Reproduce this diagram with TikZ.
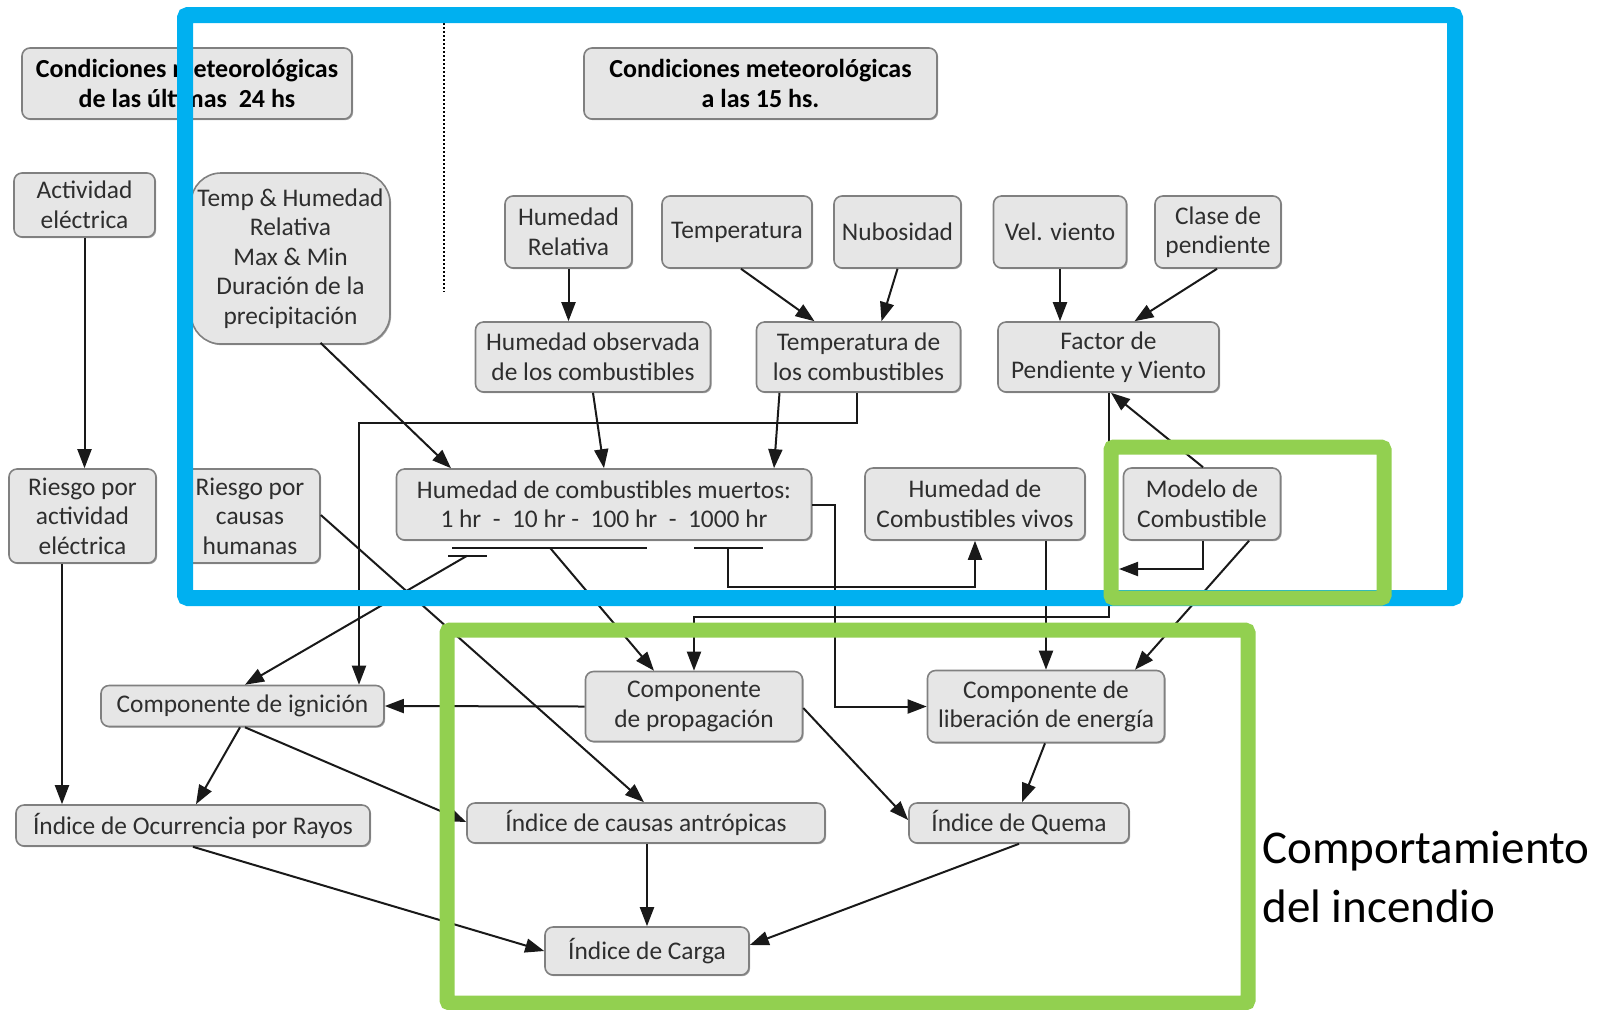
\documentclass[tikz,border=0pt]{standalone}
\usepackage{fontspec}
\setmainfont{Carlito}
\usetikzlibrary{arrows.meta,shadows,calc}
\definecolor{frameblue}{HTML}{00B0F0}
\definecolor{framegreen}{HTML}{92D050}
\definecolor{boxfill}{HTML}{E6E6E6}
\definecolor{boxline}{HTML}{808080}
\definecolor{ink}{HTML}{2E2E2E}
\begin{document}
\begin{tikzpicture}[x=0.5pt,y=-0.5pt,
  box/.style={draw=boxline, fill=boxfill, line width=0.8pt, rounded corners=4pt,
    align=center, inner sep=0pt, text=ink,
    font=\fontsize{12.7}{14.75}\selectfont,
    drop shadow={shadow xshift=0.6pt, shadow yshift=-0.6pt, fill=black, opacity=0.35}},
  hdr/.style={box, text=black, font=\bfseries\fontsize{13}{15}\selectfont},
  wh/.style 2 args={minimum width=#1*0.5pt, minimum height=#2*0.5pt},
  arr/.style={-{Triangle[length=9.5pt,width=7pt]}, line width=1pt, draw=black!90},
  link/.style={line width=1pt, draw=black!90},
  frame/.style={line width=8pt, rounded corners=1.5pt}]
\useasboundingbox (0,0) rectangle (1597,1009);

% ---- headers
\node[hdr, wh={330}{71}] (hdr24) at (187,83.5) {Condiciones meteorológicas\\de las últimas~~24 hs};
\node[hdr, wh={353}{71}] (hdr15) at (760.5,83.5) {Condiciones meteorológicas\\a las 15 hs.};
\draw[line width=1pt, densely dotted] (444,23) -- (444,292);

% ---- input boxes
\node[box, wh={141}{64}] (act) at (84.5,205) {Actividad\\eléctrica};
\node[box, wh={199}{171}, rounded corners=15pt] (temphum) at (290.5,258.5)
  {Temp \& Humedad\\Relativa\\Max \& Min\\Duración de la\\precipitación};
\node[box, wh={127}{72}] (hrel) at (568.5,232) {Humedad\\Relativa};
\node[box, wh={150}{72}] (temp) at (737,232) {Temperatura};
\node[box, wh={127}{72}] (nub) at (897.5,232) {Nubosidad};
\node[box, wh={133}{72}] (vel) at (1060,232) {Vel. viento};
\node[box, wh={126}{72}] (clase) at (1218,232) {Clase de\\pendiente};

\node[box, wh={235}{70}] (hobs) at (593,357) {Humedad observada\\de los combustibles};
\node[box, wh={204}{70}] (tcomb) at (858.5,357) {Temperatura de\\los combustibles};
\node[box, wh={221}{70}] (factor) at (1108.5,357) {Factor de\\Pendiente y Viento};

\node[box, wh={147}{94}] (riesgoE) at (82.5,516) {Riesgo por\\actividad\\eléctrica};
\node[box, wh={140}{94}] (riesgoH) at (250,516) {Riesgo por\\causas\\humanas};
\node[box, wh={415}{71}] (hmuert) at (604,504.5) {Humedad de combustibles muertos:\\1 hr~~-~~10 hr~-~~100 hr~~-~~1000 hr};
\node[box, wh={220}{72}] (hviv) at (975,504) {Humedad de\\Combustibles vivos};
\node[box, wh={157}{72}] (modelo) at (1202,504) {Modelo de\\Combustible};

% ---- components and indices
\node[box, wh={283}{41}] (ign) at (242.5,706) {Componente de ignición};
\node[box, wh={217}{70}] (prop) at (694,706.5) {Componente\\de propagación};
\node[box, wh={237}{72}] (lib) at (1046,706.5) {Componente de\\liberación de energía};
\node[box, wh={354}{41}] (ocur) at (193,825.5) {Índice de Ocurrencia por Rayos};
\node[box, wh={358}{40}] (antr) at (646,823) {Índice de causas antrópicas};
\node[box, wh={220}{40}] (quema) at (1019,823) {Índice de Quema};
\node[box, wh={204}{48}] (carga) at (647,951) {Índice de Carga};

% ---- bars under the dead fuel moisture classes
\draw[link] ([shift={(-152,7)}]hmuert.south) -- ([shift={(43,7)}]hmuert.south);
\draw[link] ([shift={(-156,15)}]hmuert.south) -- ([shift={(-117,15)}]hmuert.south);
\draw[link] ([shift={(90,7)}]hmuert.south) -- ([shift={(159,7)}]hmuert.south);
\coordinate (h1) at ([shift={(-137,15)}]hmuert.south);
\coordinate (h10) at ([shift={(-54,7)}]hmuert.south);
\coordinate (h1000) at ([shift={(124,7)}]hmuert.south);
\coordinate (mend) at (1119,569);

% ---- connectors
\draw[arr] (act.south) -- (act.south |- riesgoE.north);
\draw[arr] ([shift={(-20.5,0)}]riesgoE.south) -- ([shift={(-20.5,0)}]riesgoE.south |- ocur.north);
\draw[arr] ([shift={(30,-2)}]temphum.south) -- ([shift={(-153,0)}]hmuert.north);
\draw[arr] (hrel.south) -- (hrel.south |- hobs.north);
\draw[arr] ([shift={(4,0)}]temp.south) -- ([shift={(-44,0)}]tcomb.north);
\draw[arr] (nub.south) -- ([shift={(23,0)}]tcomb.north);
\draw[arr] (vel.south) -- (vel.south |- factor.north);
\draw[arr] ([shift={(-1,0)}]clase.south) -- ([shift={(26,0)}]factor.north);
\draw[arr] (hobs.south) -- (hmuert.north);
\draw[arr] ([shift={(-79,0)}]tcomb.south) -- ([shift={(170,0)}]hmuert.north);
\draw[arr] ([shift={(-1.5,0)}]tcomb.south) -- ++(0,30) -| ([shift={(116.5,0)}]ign.north);
\draw[arr] (hmuert.east) -- ++(22.5,0) |- (lib.west);
\draw[arr] (h1) -- ([shift={(2.5,0)}]ign.north);
\draw[arr] (h10) -- ([shift={(-40,0)}]prop.north);
\draw[arr] (h1000) -- ++(0,39) -| (hviv.south);
\draw[arr] ([shift={(0.5,0)}]factor.south) -- ++(0,224) -| (prop.north);
\draw[arr] ([shift={(1,0)}]modelo.north) -- ([shift={(2.5,0)}]factor.south);
\draw[arr] ([shift={(1,0)}]modelo.south) |- (mend);
\draw[arr] ([shift={(47,0)}]modelo.south) -- ([shift={(89,0)}]lib.north);
\draw[arr] ([shift={(71,0)}]hviv.south) -- (lib.north);
\draw[arr] ([shift={(0,-1)}]riesgoH.east) -- ([shift={(-2,0)}]antr.north);
\draw[arr] (prop.west) -- (ign.east);
\draw[arr] ([shift={(-2.5,0)}]ign.south) -- ([shift={(3,0)}]ocur.north);
\draw[arr] ([shift={(2.5,0)}]ign.south) -- ([shift={(0,-1)}]antr.west);
\draw[arr] ([shift={(0,1.5)}]prop.east) -- ([shift={(0,-3)}]quema.west);
\draw[arr] ([shift={(-1,0)}]lib.south) -- ([shift={(3,0)}]quema.north);
\draw[arr] (ocur.south) -- (carga.west);
\draw[arr] ([shift={(1,0)}]antr.south) -- (carga.north);
\draw[arr] (quema.south) -- ([shift={(0,-6)}]carga.east);

% ---- highlight frames
\draw[frame, frameblue] (185,15) rectangle (1455,598);
\draw[frame, framegreen, line width=7.5pt] (1111,447) rectangle (1384,598);
\draw[frame, framegreen, line width=7.5pt] (447,630) rectangle (1248,1003);

\node[anchor=base west, align=left, inner sep=0pt, font=\fontsize{23.5}{29.5}\selectfont]
  (comp) at (1262,922) {Comportamiento\\del incendio};
\end{tikzpicture}
\end{document}
